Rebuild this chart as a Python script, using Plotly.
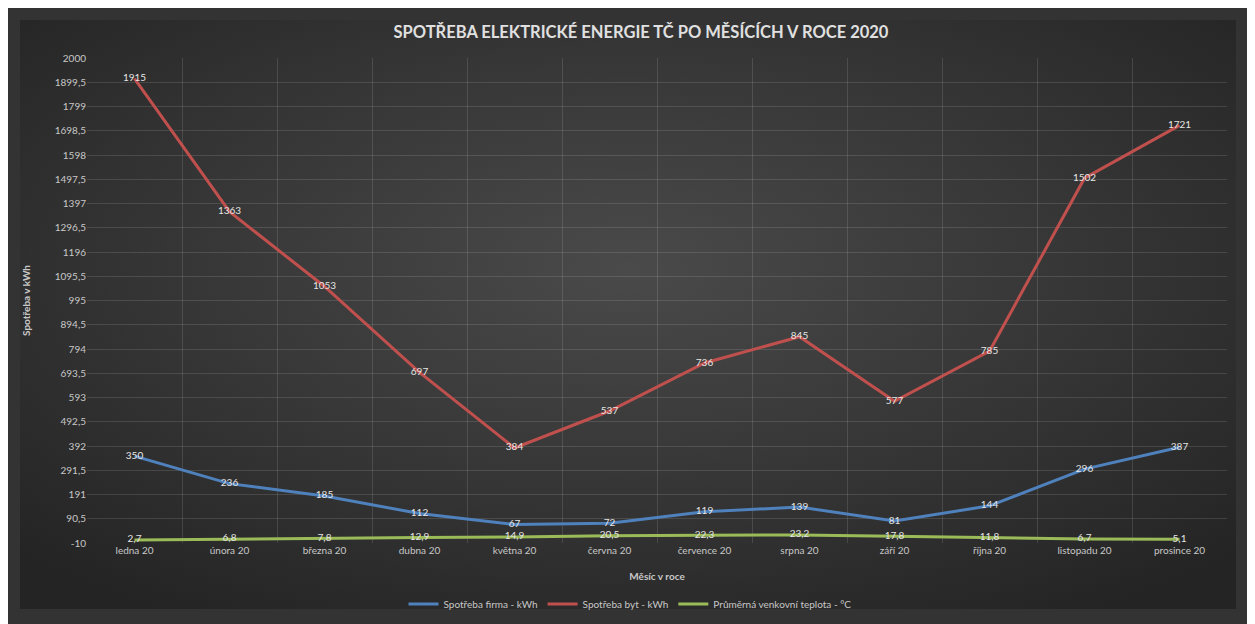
import base64
import plotly.graph_objects as go

months = ["ledna 20", "února 20", "března 20", "dubna 20", "května 20", "června 20",
          "července 20", "srpna 20", "září 20", "října 20", "listopadu 20", "prosince 20"]
firma = [350, 236, 185, 112, 67, 72, 119, 139, 81, 144, 296, 387]
byt = [1915, 1363, 1053, 697, 384, 537, 736, 845, 577, 785, 1502, 1721]
teplota = [2.7, 6.8, 7.8, 12.9, 14.9, 20.5, 22.3, 23.2, 17.8, 11.8, 6.7, 5.1]
y_tickvals = [-10, 90.5, 191, 291.5, 392, 492.5, 593, 693.5, 794, 894.5, 995,
              1095.5, 1196, 1296.5, 1397, 1497.5, 1598, 1698.5, 1799, 1899.5, 2000]
y_ticktext = [str(v).replace(".", ",") if v != int(v) else str(int(v)) for v in y_tickvals]

FONT = "Lato"
txtfont = dict(family=FONT, size=10, color="#e6e6e6")

fig = go.Figure()
series = [
    ("Spotřeba firma - kWh", firma, "#4f81bd"),
    ("Spotřeba byt - kWh", byt, "#c0504d"),
    ("Průměrná venkovní teplota - °C", teplota, "#9bbb59"),
]
for name, vals, col in series:
    fig.add_trace(go.Scatter(
        x=months, y=vals, name=name, mode="lines+text",
        line=dict(color=col, width=3),
        text=[str(v).replace(".", ",") for v in vals],
        textposition="middle center", textfont=txtfont,
        cliponaxis=False,
    ))

# radial gradient inner panel (SVG data URI)
svg = ('<svg xmlns="http://www.w3.org/2000/svg" width="1216" height="589" viewBox="0 0 1216 589" '
       'preserveAspectRatio="none"><defs><radialGradient id="g" cx="50%" cy="42%" r="70%">'
       '<stop offset="0%" stop-color="#4a4a4a"/><stop offset="100%" stop-color="#242424"/>'
       '</radialGradient></defs><rect width="1216" height="589" fill="url(#g)"/></svg>')
src = "data:image/svg+xml;base64," + base64.b64encode(svg.encode()).decode()

W, H = 1247, 616
L, T, B = 79, 50, 81
PW, PH = 1140, 485
plot_bottom = H - B  # 535
x0p = (12 - L) / PW
x1p = (1228 - L) / PW
y1p = (plot_bottom - 12) / PH
y0p = (plot_bottom - 601) / PH

fig.update_layout(
    width=W, height=H,
    paper_bgcolor="#333333", plot_bgcolor="rgba(0,0,0,0)",
    margin=dict(l=L, r=W - L - PW, t=T, b=B, autoexpand=False),
    images=[dict(source=src, xref="paper", yref="paper", x=x0p, y=y1p,
                 sizex=x1p - x0p, sizey=y1p - y0p, sizing="stretch",
                 xanchor="left", yanchor="top", layer="below")],
    title=dict(text="<b>SPOTŘEBA ELEKTRICKÉ ENERGIE TČ PO MĚSÍCÍCH V ROCE 2020</b>",
               xref="paper", x=(633 - L) / PW, xanchor="center", y=1 - 24 / H, yanchor="middle",
               font=dict(family=FONT, size=16.5, color="#e0e0e0")),
    showlegend=True,
    legend=dict(orientation="h", x=(622 - L) / PW, xanchor="center", y=(plot_bottom - 596) / PH,
                yanchor="middle",
                font=dict(family=FONT, size=10, color="#c8c8c8"),
                bgcolor="rgba(0,0,0,0)"),
    font=dict(family=FONT, color="#c8c8c8"),
)
fig.update_xaxes(
    type="category", tickson="boundaries", range=[-0.5, 11.5],
    showgrid=True, gridcolor="rgba(255,255,255,0.12)", gridwidth=1,
    showline=False, zeroline=False, ticks="",
    tickfont=dict(family=FONT, size=10, color="#c8c8c8"),
    title=dict(text="<b>Měsíc v roce</b>", font=dict(family=FONT, size=10, color="#c8c8c8"), standoff=17),
)
fig.update_yaxes(
    range=[-10, 2000], tickvals=y_tickvals, ticktext=y_ticktext,
    showgrid=True, gridcolor="rgba(255,255,255,0.12)", gridwidth=1,
    zeroline=False, showline=False, ticks="",
    tickfont=dict(family=FONT, size=10, color="#c8c8c8"),
    title=dict(text="<b>Spotřeba v kWh</b>", font=dict(family=FONT, size=10, color="#c8c8c8"), standoff=22),
)

fig.write_html("out.html")
